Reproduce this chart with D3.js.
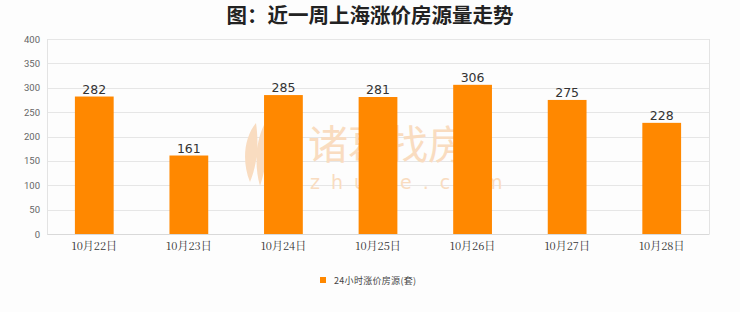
<!DOCTYPE html>
<html>
<head>
<meta charset="utf-8">
<script src="https://cdn.jsdelivr.net/npm/d3@7"></script>
<style>
  html, body { margin: 0; padding: 0; background: #fdfdfd; }
  svg { display: block; }
</style>
</head>
<body>
<svg id="chart" width="740" height="312"></svg>
<script>
// Daily count of listings with a price increase, Shanghai, past week
const categories = ["10月22日", "10月23日", "10月24日", "10月25日", "10月26日", "10月27日", "10月28日"];
const values = [282, 161, 285, 281, 306, 275, 228];
const yTicks = [0, 50, 100, 150, 200, 250, 300, 350, 400];
const titleText = "图：近一周上海涨价房源量走势";
const seriesName = "24小时涨价房源(套)";

const svg = d3.select("#chart");
const margin = { left: 47, right: 31, top: 39, bottom: 78 };
const W = 740, H = 312;
const innerW = W - margin.left - margin.right;
const innerH = H - margin.top - margin.bottom;

const x = d3.scaleBand().domain(categories).range([margin.left, margin.left + innerW]).paddingInner(0).paddingOuter(0);
const y = d3.scaleLinear().domain([0, 400]).range([margin.top + innerH, margin.top]);

// Title
svg.append("text")
  .attr("x", 370).attr("y", 23)
  .attr("text-anchor", "middle")
  .attr("font-family", "Noto Sans CJK SC, sans-serif")
  .attr("font-weight", "bold")
  .attr("font-size", 20.5)
  .attr("fill", "#222")
  .text(titleText);

// Horizontal grid
svg.append("g")
  .selectAll("line").data(yTicks).join("line")
  .attr("x1", margin.left).attr("x2", margin.left + innerW)
  .attr("y1", d => Math.round(y(d)) + 0.5).attr("y2", d => Math.round(y(d)) + 0.5)
  .attr("stroke", "#e6e6e6").attr("stroke-width", 1);

// Plot frame sides
[margin.left, margin.left + innerW].forEach(px => {
  svg.append("line")
    .attr("x1", px + 0.5).attr("x2", px + 0.5)
    .attr("y1", y(400)).attr("y2", y(0))
    .attr("stroke", "#e3e3e3");
});

// Watermark
const wm = svg.append("g").attr("fill", "#f9dcc0");
wm.append("text")
  .attr("x", 308).attr("y", 159)
  .attr("font-family", "Noto Sans CJK SC, sans-serif")
  .attr("font-size", 40)
  .text("诸葛找房");
wm.append("text")
  .attr("x", 310).attr("y", 189)
  .attr("font-family", "DejaVu Sans, sans-serif")
  .attr("font-size", 19)
  .attr("letter-spacing", 11)
  .text("zhuge.com");
wm.append("path")
  .attr("d", "M256,123 C245,136 241,160 250,182 C255,170 260,150 256,123 Z M264,125 C256,141 254,165 260,186 C266,168 270,146 264,125 Z");

// Y axis labels
const yAxis = d3.axisLeft(y).tickValues(yTicks).tickSize(0).tickPadding(7);
const yg = svg.append("g").attr("transform", `translate(${margin.left},0)`).call(yAxis);
yg.select(".domain").remove();
yg.selectAll("text")
  .attr("font-family", "Roboto, sans-serif")
  .attr("font-size", 9.5)
  .attr("fill", "#666");

// X axis
const xAxis = d3.axisBottom(x).tickSize(0).tickPadding(8);
const xg = svg.append("g").attr("transform", `translate(0,${y(0)})`).call(xAxis);
xg.select(".domain").attr("stroke", "#d9d9d9");
xg.selectAll("text")
  .attr("font-family", "Noto Serif CJK SC, Noto Sans CJK SC, serif")
  .attr("font-size", 11)
  .attr("fill", "#333");

// Bars
const barW = x.bandwidth() * 0.41;
svg.append("g")
  .selectAll("rect").data(values).join("rect")
  .attr("x", (d, i) => x(categories[i]) + (x.bandwidth() - barW) / 2)
  .attr("y", d => y(d))
  .attr("width", barW)
  .attr("height", d => y(0) - y(d))
  .attr("fill", "#ff8800");

// Value labels
svg.append("g")
  .selectAll("text").data(values).join("text")
  .attr("x", (d, i) => x(categories[i]) + x.bandwidth() / 2)
  .attr("y", d => y(d) - 3)
  .attr("text-anchor", "middle")
  .attr("font-family", "DejaVu Sans, sans-serif")
  .attr("font-size", 12.5)
  .attr("fill", "#333")
  .text(d => d);

// Legend
const lg = svg.append("g").attr("transform", "translate(320,277)");
lg.append("rect").attr("x", 0).attr("y", 0).attr("width", 6).attr("height", 6).attr("fill", "#ff8800");
lg.append("text")
  .attr("x", 14).attr("y", 6.5)
  .attr("font-family", "Noto Sans CJK SC, sans-serif")
  .attr("font-size", 9)
  .attr("letter-spacing", 0.3)
  .attr("fill", "#444")
  .text(seriesName);
</script>
</body>
</html>
